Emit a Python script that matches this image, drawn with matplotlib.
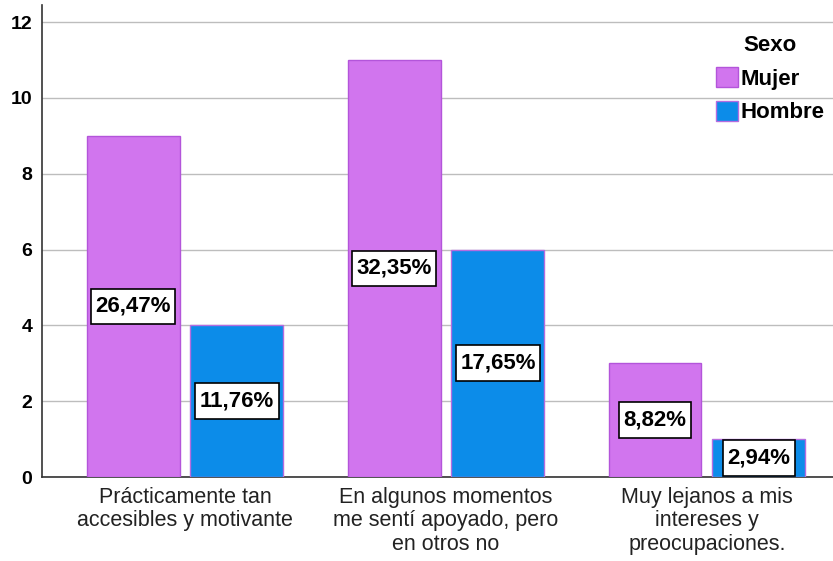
import numpy as np
import matplotlib.pyplot as plt
from matplotlib.path import Path

categorias = ['Prácticamente tan\naccesibles y motivante',
              'En algunos momentos\nme sentí apoyado, pero\nen otros no',
              'Muy lejanos a mis\nintereses y\npreocupaciones.']
mujer = [9, 11, 3]
hombre = [4, 6, 1]
pct_mujer = ['26,47%', '32,35%', '8,82%']
pct_hombre = ['11,76%', '17,65%', '2,94%']

plt.rcParams['font.family'] = ['Liberation Sans', 'DejaVu Sans']


def caja(x0, y0, width, height, mutation_size):
    # rectangulo con mas margen vertical que horizontal
    px, py = 0.2 * mutation_size, 0.33 * mutation_size
    x1, y1 = x0 + width + px, y0 + height + py
    x0, y0 = x0 - px, y0 - py
    return Path([(x0, y0), (x1, y0), (x1, y1), (x0, y1), (x0, y0)],
                [Path.MOVETO, Path.LINETO, Path.LINETO, Path.LINETO, Path.CLOSEPOLY])


fig = plt.figure(figsize=(8.33, 5.61), dpi=100)
ax = fig.add_axes([42 / 833, 1 - 477 / 561, 1 - 42 / 833, (477 - 5) / 561])

x = np.arange(len(categorias))
w = 0.356
off = 0.199
b1 = ax.bar(x - off, mujer, w, color='#D175EE', edgecolor='#B355DA', linewidth=1, label='Mujer', zorder=3)
b2 = ax.bar(x + off, hombre, w, color='#0C8CE9', edgecolor='#B46CE0', linewidth=1, label='Hombre', zorder=3)

for bars, labs in ((b1, pct_mujer), (b2, pct_hombre)):
    for r, t in zip(bars, labs):
        ax.text(r.get_x() + r.get_width() / 2, r.get_height() / 2, t,
                ha='center', va='center', fontsize=16, fontweight='bold', zorder=4,
                bbox=dict(boxstyle=caja, fc='white', ec='black', lw=1.2))

ax.set_xlim(-0.548, 2.483)
ax.set_ylim(0, 12 + 17 / 37.9)
ax.set_yticks([0, 2, 4, 6, 8, 10, 12])
ax.yaxis.grid(True, color='#BDBDBD', lw=1, zorder=0)
ax.set_xticks(x)
ax.set_xticklabels(categorias, fontsize=15.5, linespacing=1.15, color='#222222')
ax.tick_params(axis='x', length=0, pad=7)
ax.tick_params(axis='y', length=0, pad=7, labelsize=14)
for lab in ax.get_yticklabels():
    lab.set_fontweight('bold')
for s in ('top', 'right'):
    ax.spines[s].set_visible(False)
for s in ('left', 'bottom'):
    ax.spines[s].set_color('#333333')
    ax.spines[s].set_linewidth(1.2)

leg = ax.legend(title='Sexo', loc='upper right', bbox_to_anchor=(1.0, 1 - 26 / 561),
                bbox_transform=fig.transFigure, borderaxespad=0, frameon=False,
                prop={'weight': 'bold', 'size': 16}, handlelength=1.0, handleheight=1.0,
                handletextpad=0.1, labelspacing=0.5)
leg.get_title().set_fontweight('bold')
leg.get_title().set_fontsize(16)

fig.savefig('out.png', dpi=100)
